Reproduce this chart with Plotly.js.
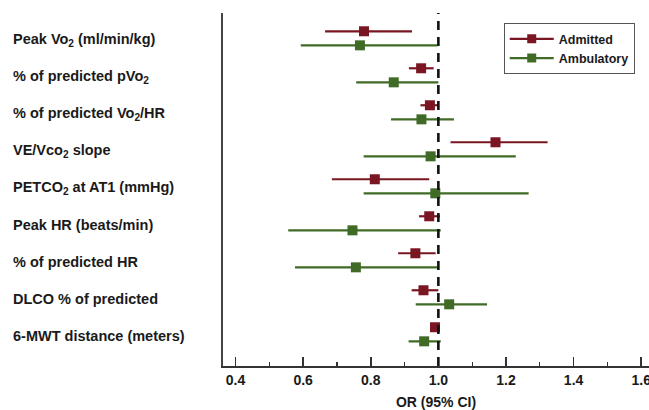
<!DOCTYPE html>
<html>
<head>
<meta charset="utf-8">
<script src="https://cdn.plot.ly/plotly-3.0.1.min.js"></script>
<style>html,body{margin:0;padding:0;background:#fff;}#chart{width:649px;height:410px;}</style>
</head>
<body>
<div id="chart"></div>
<script>
const categories = [
  "Peak Vo<sub>2</sub> (ml/min/kg)",
  "% of predicted pVo<sub>2</sub>",
  "% of predicted Vo<sub>2</sub>/HR",
  "VE/Vco<sub>2</sub> slope",
  "PETCO<sub>2</sub> at AT1 (mmHg)",
  "Peak HR (beats/min)",
  "% of predicted HR",
  "DLCO % of predicted",
  "6-MWT distance (meters)"
];
const admittedOR = [0.780, 0.949, 0.975, 1.169, 0.812, 0.973, 0.932, 0.956, 0.990];
const admittedLo = [0.665, 0.913, 0.947, 1.036, 0.685, 0.943, 0.881, 0.921, 0.978];
const admittedHi = [0.922, 0.986, 1.000, 1.323, 0.973, 1.005, 0.992, 1.000, 1.002];
const ambulatoryOR = [0.768, 0.868, 0.950, 0.977, 0.991, 0.746, 0.756, 1.032, 0.958];
const ambulatoryLo = [0.593, 0.757, 0.860, 0.779, 0.779, 0.556, 0.576, 0.933, 0.912];
const ambulatoryHi = [0.997, 1.000, 1.046, 1.229, 1.267, 1.007, 1.000, 1.144, 1.007];
const xTicks = [0.4, 0.6, 0.8, 1.0, 1.2, 1.4, 1.6];

const RED = "#7a1621", GREEN = "#3f6b26";
const OFF = 0.19;
const idx = categories.map((c, i) => i);
const FAM = "Liberation Sans, Arial, sans-serif";
const labelFont = {family: FAM, size: 14.5, color: "#1a1a1a", weight: 700};
const tickFont = {family: FAM, size: 14, color: "#1a1a1a", weight: 700};
const legendFont = {family: FAM, size: 12.5, color: "#1a1a1a", weight: 700};

function series(name, xs, lo, hi, color, sign) {
  return {
    type: "scatter", mode: "markers", name: name, showlegend: false,
    x: xs, y: idx.map(i => i + sign * OFF),
    marker: {symbol: "square", size: 10, color: color},
    error_x: {type: "data", symmetric: false,
      array: xs.map((v, i) => hi[i] - v),
      arrayminus: xs.map((v, i) => v - lo[i]),
      width: 0, thickness: 2.2, color: color},
    hoverinfo: "x"
  };
}
function legendTrace(name, color) {
  return {type: "scatter", mode: "lines+markers", name: name, x: [null], y: [null],
    line: {color: color, width: 2.2}, marker: {symbol: "square", size: 9, color: color}};
}

const data = [
  series("Admitted", admittedOR, admittedLo, admittedHi, RED, -1),
  series("Ambulatory", ambulatoryOR, ambulatoryLo, ambulatoryHi, GREEN, 1),
  legendTrace("Admitted", RED),
  legendTrace("Ambulatory", GREEN)
];

const annotations = categories.map((c, i) => ({
  text: c, xref: "paper", x: -0.4975, xanchor: "left", yref: "y", y: i + 0.04, yanchor: "middle",
  showarrow: false, font: labelFont
}));

const layout = {
  width: 649, height: 410,
  margin: {l: 223, r: 0, t: 13, b: 44},
  paper_bgcolor: "#fff", plot_bgcolor: "#fff",
  showlegend: true,
  legend: {x: 0.659, y: 0.971, xanchor: "left", yanchor: "top", itemwidth: 44,
    bordercolor: "#555", borderwidth: 1, bgcolor: "#fff", font: legendFont, tracegroupgap: 0},
  xaxis: {range: [0.363, 1.623], tickvals: xTicks, ticktext: xTicks.map(v => v.toFixed(1)),
    ticklabeloverflow: "allow",
    ticks: "inside", ticklen: 9, tickwidth: 1.5, tickcolor: "#333",
    minor: {dtick: 0.1, tick0: 0, ticks: "inside", ticklen: 4, tickwidth: 1.2, tickcolor: "#333"},
    showgrid: false, zeroline: false, showline: true, linecolor: "#333", linewidth: 2,
    tickfont: tickFont, title: {text: "OR (95% CI)", font: tickFont, standoff: 10}},
  yaxis: {range: [8.857, -0.684], showticklabels: false, ticks: "", showgrid: false,
    zeroline: false, showline: true, linecolor: "#444", linewidth: 2},
  shapes: [{type: "line", xref: "x", x0: 1, x1: 1, yref: "paper", y0: 0, y1: 1,
    line: {color: "#111", width: 2.6, dash: "9px,7px"}, layer: "above"}],
  annotations: annotations
};
Plotly.newPlot("chart", data, layout, {displayModeBar: false, staticPlot: true});
</script>
</body>
</html>
